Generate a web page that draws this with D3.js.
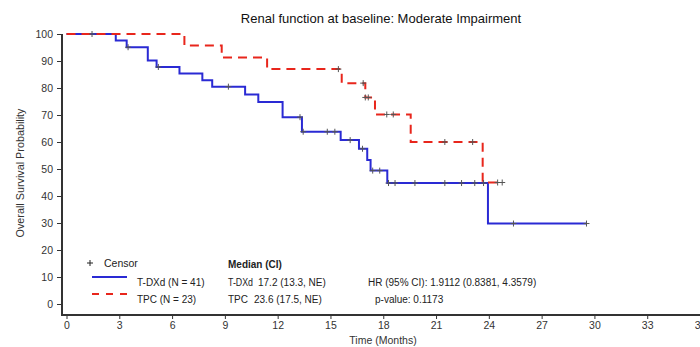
<!DOCTYPE html>
<html>
<head>
<meta charset="utf-8">
<script src="https://cdn.jsdelivr.net/npm/d3@7"></script>
<style>
  html, body { margin: 0; padding: 0; background: #fff; }
  svg { display: block; font-family: Arial, "Liberation Sans", sans-serif; }
</style>
</head>
<body>
<svg id="chart" width="700" height="347"></svg>
<script>
// Kaplan-Meier overall survival, moderate renal impairment at baseline
const xTicks = [0, 3, 6, 9, 12, 15, 18, 21, 24, 27, 30, 33, 36];
const yTicks = [0, 10, 20, 30, 40, 50, 60, 70, 80, 90, 100];

// T-DXd: event times (months) and survival (%) after each step
const tdxdTimes = [0, 2.8, 3.42, 4.62, 5.12, 6.42, 7.72, 8.28, 10.15, 10.9, 12.28, 13.38, 15.58, 16.62, 17.09, 17.28, 18.23, 23.95];
const tdxdSurv  = [100, 97.6, 95.1, 90.2, 87.8, 85.4, 82.9, 80.5, 77.6, 74.8, 69.2, 63.8, 60.7, 57.5, 53.3, 49.4, 44.8, 29.8];
const tdxdEnd = 29.55;
const tdxdCensor = [1.45, 3.5, 5.22, 9.2, 13.27, 13.45, 14.82, 15.25, 16.12, 16.82, 17.4, 17.8, 18.3, 18.67, 19.8, 21.5, 22.45, 23.2, 23.7, 25.4, 29.55];

// TPC: event times (months) and survival (%) after each step
const tpcTimes = [0, 6.7, 8.82, 11.4, 15.64, 16.98, 17.53, 19.56, 23.65];
const tpcSurv  = [100, 95.7, 91.3, 87.0, 81.8, 76.5, 70.2, 60.0, 45.0];
const tpcEnd = 24.8;
const tpcCensor = [15.45, 16.86, 16.98, 17.15, 18.2, 18.57, 21.5, 23.08, 24.5, 24.76];

const svg = d3.select("#chart");
const x = d3.scaleLinear().domain([0, 36]).range([66.5, 700]);
const y = d3.scaleLinear().domain([0, 100]).range([304, 34]);
const axisColor = "#333";
const textColor = "#333";
const fontFamily = "Arial, 'Liberation Sans', sans-serif";

// Title
svg.append("text").attr("x", 381).attr("y", 22.5).attr("text-anchor", "middle")
  .attr("font-size", 13).attr("fill", "#111")
  .text("Renal function at baseline: Moderate Impairment");

// Y axis
const yAxisX = 62;
const yAxis = svg.append("g").attr("transform", `translate(${yAxisX},0)`)
  .call(d3.axisLeft(y).tickValues(yTicks).tickSize(5).tickPadding(4));
yAxis.select(".domain").remove();
yAxis.selectAll(".tick line").attr("stroke", axisColor);
yAxis.selectAll(".tick text").attr("font-size", 10.5).attr("fill", textColor).attr("font-family", fontFamily);
svg.append("line").attr("x1", yAxisX).attr("x2", yAxisX).attr("y1", y(100)).attr("y2", 315)
  .attr("stroke", axisColor).attr("stroke-width", 2);

// X axis
const xAxisY = 315;
const xAxis = svg.append("g").attr("transform", `translate(0,${xAxisY})`)
  .call(d3.axisBottom(x).tickValues(xTicks).tickSize(4).tickPadding(3));
xAxis.select(".domain").remove();
xAxis.selectAll(".tick line").attr("stroke", axisColor);
xAxis.selectAll(".tick text").attr("font-size", 10.5).attr("fill", textColor).attr("font-family", fontFamily);
svg.append("line").attr("x1", yAxisX - 1).attr("x2", 700).attr("y1", xAxisY).attr("y2", xAxisY)
  .attr("stroke", axisColor).attr("stroke-width", 2);

// Axis titles
svg.append("text").attr("x", 383).attr("y", 344).attr("text-anchor", "middle")
  .attr("font-size", 10.5).attr("fill", textColor).text("Time (Months)");
svg.append("text").attr("transform", "translate(24,173) rotate(-90)").attr("text-anchor", "middle")
  .attr("font-size", 10.8).attr("fill", textColor).text("Overall Survival Probability");

// Step curves
const blue = "#2a2ad4";
const red = "#e8261c";
const stepLine = d3.line().x(d => x(d[0])).y(d => y(d[1])).curve(d3.curveStepAfter);

function curvePoints(times, surv, end) {
  const pts = times.map((t, i) => [t, surv[i]]);
  pts.push([end, surv[surv.length - 1]]);
  return pts;
}
function survAt(times, surv, t) {
  let s = surv[0];
  for (let i = 0; i < times.length; i++) if (times[i] <= t) s = surv[i];
  return s;
}

svg.append("path").datum(curvePoints(tdxdTimes, tdxdSurv, tdxdEnd))
  .attr("d", stepLine).attr("fill", "none").attr("stroke", blue).attr("stroke-width", 2);
svg.append("path").datum(curvePoints(tpcTimes, tpcSurv, tpcEnd))
  .attr("d", stepLine).attr("fill", "none").attr("stroke", red).attr("stroke-width", 2)
  .attr("stroke-dasharray", "9,6");

// Censor marks
function censorMarks(times, surv, cens) {
  svg.append("g").selectAll("path").data(cens).join("path")
    .attr("d", t => {
      const cx = x(t), cy = y(survAt(times, surv, t));
      return `M${cx - 3},${cy}H${cx + 3}M${cx},${cy - 3}V${cy + 3}`;
    })
    .attr("stroke", "#555").attr("stroke-width", 1).attr("fill", "none");
}
censorMarks(tdxdTimes, tdxdSurv, tdxdCensor);
censorMarks(tpcTimes, tpcSurv, tpcCensor);

// Legend and summary statistics
const lg = svg.append("g").attr("font-size", 10).attr("fill", "#222");
lg.append("path").attr("d", "M87,263H93M90,260V266").attr("stroke", "#222").attr("stroke-width", 1);
lg.append("text").attr("x", 104).attr("y", 266.5).attr("font-size", 10.5).text("Censor");
lg.append("line").attr("x1", 92).attr("x2", 127).attr("y1", 277).attr("y2", 277)
  .attr("stroke", blue).attr("stroke-width", 2);
lg.append("text").attr("x", 137).attr("y", 285.5).text("T-DXd (N = 41)");
lg.append("line").attr("x1", 92).attr("x2", 128).attr("y1", 294).attr("y2", 294)
  .attr("stroke", red).attr("stroke-width", 2).attr("stroke-dasharray", "7,7");
lg.append("text").attr("x", 137).attr("y", 303).text("TPC (N = 23)");

lg.append("text").attr("x", 228).attr("y", 267.5).attr("font-weight", "bold").text("Median (CI)");
lg.append("text").attr("x", 228).attr("y", 285.5).attr("textLength", 25).attr("lengthAdjust", "spacingAndGlyphs").text("T-DXd");
lg.append("text").attr("x", 258).attr("y", 285.5).text("17.2 (13.3, NE)");
lg.append("text").attr("x", 228).attr("y", 303).text("TPC");
lg.append("text").attr("x", 254).attr("y", 303).text("23.6 (17.5, NE)");
lg.append("text").attr("x", 368).attr("y", 285.5).text("HR (95% CI): 1.9112 (0.8381, 4.3579)");
lg.append("text").attr("x", 375).attr("y", 303).text("p-value: 0.1173");
</script>
</body>
</html>
